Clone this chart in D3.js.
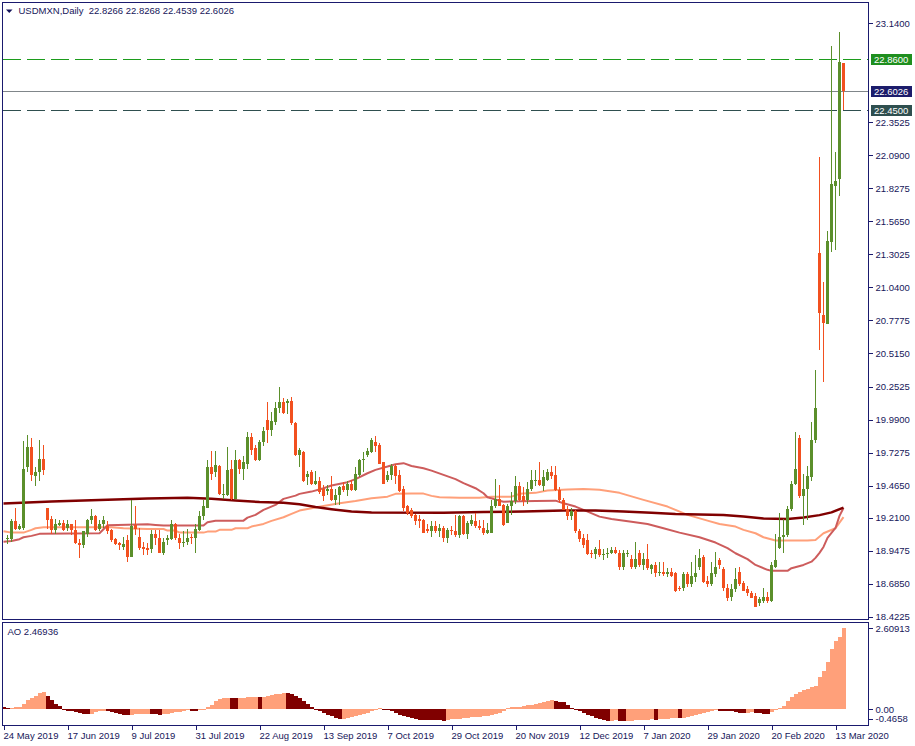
<!DOCTYPE html>
<html><head><meta charset="utf-8">
<script src="https://cdn.jsdelivr.net/npm/d3@7"></script>
<style>
html,body{margin:0;padding:0;background:#fff;}
svg{display:block;}
text{font-family:"Liberation Sans",Arial,sans-serif;font-size:9.5px;}
</style></head><body>
<svg id="chart" width="915" height="746"></svg>
<script>
// ---------- DATA ----------
const symbolTitle = "USDMXN,Daily";
const titleOHLC = "22.8266 22.8268 22.4539 22.6026";
const aoTitle = "AO 2.46936";
const firstBar = 1;   // index of the first candle (bar 0 = 24 May 2019)
const opens = [
19.04,19.04,19.18,19.12,19.13,19.61,19.77,19.54,19.57,19.68,
19.29,19.20,19.11,19.15,19.17,19.13,19.16,19.11,19.01,18.99,
19.08,19.19,19.22,19.12,19.16,19.14,19.11,19.04,19.01,18.98,
19.03,18.90,19.15,19.06,18.98,18.97,18.96,19.08,19.05,18.93,
19.03,19.04,19.16,19.05,19.01,19.02,19.06,19.05,19.11,19.22,
19.29,19.61,19.57,19.62,19.39,19.39,19.60,19.36,19.67,19.60,
19.64,19.85,19.76,19.67,19.81,19.99,19.91,19.97,20.08,20.13,
20.12,20.14,19.96,19.71,19.73,19.53,19.57,19.48,19.50,19.44,
19.42,19.44,19.35,19.39,19.46,19.43,19.48,19.43,19.55,19.67,
19.71,19.73,19.81,19.79,19.65,19.51,19.55,19.62,19.55,19.44,
19.30,19.27,19.23,19.20,19.19,19.12,19.10,19.14,19.10,19.13,
19.05,19.11,19.10,19.07,19.22,19.08,19.16,19.18,19.14,19.13,
19.09,19.09,19.30,19.36,19.31,19.17,19.30,19.34,19.46,19.38,
19.35,19.44,19.50,19.51,19.46,19.51,19.57,19.55,19.43,19.35,
19.28,19.22,19.26,19.10,19.05,19.03,18.93,18.92,18.96,18.91,
18.92,18.93,18.95,18.93,18.82,18.92,18.88,18.82,18.93,18.83,
18.88,18.80,18.83,18.77,18.78,18.76,18.78,18.77,18.65,18.65,
18.76,18.68,18.74,18.82,18.90,18.71,18.68,18.76,18.87,18.80,
18.65,18.58,18.64,18.78,18.69,18.64,18.61,18.59,18.53,18.55,
18.58,18.55,18.82,18.97,19.06,19.07,19.28,19.48,19.84,19.38,
19.44,19.53,19.83,21.31,20.82,20.75,21.40,21.85,21.90,22.8266];
const highs = [
19.07,19.20,19.29,19.16,19.82,19.87,19.84,19.61,19.83,19.79,
19.29,19.22,19.20,19.19,19.19,19.19,19.16,19.19,19.04,19.10,
19.20,19.28,19.23,19.19,19.22,19.18,19.12,19.05,19.02,19.06,
19.07,19.35,19.30,19.13,19.02,19.01,19.11,19.11,19.11,19.05,
19.07,19.19,19.17,19.08,19.10,19.12,19.08,19.16,19.26,19.35,
19.67,19.74,19.74,19.63,19.48,19.77,19.67,19.75,19.68,19.70,
19.89,19.88,19.79,19.83,19.93,20.13,20.05,20.13,20.25,20.16,
20.15,20.17,19.97,19.76,19.74,19.58,19.59,19.58,19.53,19.47,
19.47,19.54,19.44,19.46,19.49,19.50,19.51,19.61,19.68,19.73,
19.76,19.84,19.86,19.80,19.65,19.58,19.64,19.64,19.59,19.46,
19.31,19.29,19.24,19.23,19.20,19.16,19.18,19.18,19.16,19.14,
19.13,19.14,19.23,19.23,19.23,19.18,19.23,19.25,19.19,19.19,
19.17,19.35,19.52,19.47,19.32,19.32,19.41,19.54,19.49,19.45,
19.49,19.59,19.59,19.65,19.59,19.60,19.62,19.62,19.45,19.37,
19.30,19.29,19.27,19.12,19.08,19.08,18.95,18.98,19.03,18.96,
18.97,18.98,18.98,18.95,18.95,18.95,18.91,19.02,18.95,18.93,
19.00,18.84,18.86,18.86,18.86,18.81,18.81,18.78,18.67,18.78,
18.78,18.86,18.91,18.96,18.91,18.75,18.86,18.94,18.89,18.82,
18.68,18.68,18.81,18.82,18.71,18.67,18.63,18.61,18.58,18.65,
18.62,18.86,19.08,19.25,19.20,19.30,19.50,19.89,19.87,19.56,
19.62,19.97,20.38,22.08,21.08,21.49,22.96,22.12,23.07,22.8268];
const lows = [
19.00,19.02,19.11,19.11,19.11,19.57,19.50,19.46,19.50,19.55,
19.12,19.08,19.08,19.14,19.10,19.10,19.07,19.00,18.89,18.97,
19.06,19.16,19.10,19.10,19.13,19.08,19.02,18.99,18.95,18.95,
18.86,18.90,19.07,18.95,18.91,18.91,18.93,18.99,18.93,18.91,
18.99,19.03,19.03,18.96,18.98,18.99,19.00,18.93,19.10,19.19,
19.29,19.51,19.53,19.39,19.36,19.38,19.35,19.36,19.56,19.51,
19.60,19.71,19.66,19.66,19.78,19.80,19.86,19.95,20.04,20.03,
20.03,19.95,19.70,19.61,19.49,19.47,19.47,19.47,19.40,19.34,
19.39,19.34,19.31,19.31,19.41,19.38,19.42,19.42,19.53,19.57,
19.69,19.72,19.73,19.64,19.48,19.49,19.51,19.48,19.41,19.26,
19.23,19.21,19.15,19.13,19.09,19.09,19.06,19.09,19.06,19.02,
19.01,19.07,19.06,19.05,19.07,19.04,19.14,19.13,19.11,19.07,
19.08,19.09,19.29,19.30,19.14,19.17,19.23,19.32,19.34,19.30,
19.32,19.42,19.46,19.46,19.42,19.50,19.52,19.42,19.33,19.27,
19.19,19.19,19.09,19.02,18.97,18.91,18.89,18.88,18.90,18.87,
18.89,18.92,18.92,18.79,18.79,18.90,18.80,18.80,18.82,18.79,
18.79,18.76,18.74,18.75,18.75,18.74,18.74,18.62,18.63,18.63,
18.66,18.66,18.70,18.79,18.69,18.66,18.67,18.74,18.80,18.63,
18.55,18.55,18.62,18.67,18.63,18.59,18.57,18.50,18.51,18.53,
18.53,18.54,18.81,18.96,18.93,19.06,19.26,19.47,19.37,19.15,
19.19,19.50,19.80,20.54,20.29,20.75,21.32,21.34,21.77,22.4539];
const closes = [
19.05,19.18,19.12,19.14,19.60,19.77,19.55,19.57,19.68,19.59,
19.19,19.11,19.16,19.17,19.11,19.16,19.11,19.01,18.99,19.10,
19.19,19.22,19.11,19.16,19.19,19.10,19.03,19.00,18.99,19.00,
18.90,19.14,19.12,18.97,18.96,18.95,19.08,19.05,18.93,19.02,
19.05,19.16,19.05,19.01,19.02,19.05,19.05,19.12,19.22,19.30,
19.61,19.56,19.63,19.40,19.40,19.59,19.36,19.67,19.60,19.65,
19.85,19.75,19.67,19.81,19.90,19.91,19.98,20.08,20.13,20.04,
20.14,19.96,19.71,19.75,19.50,19.56,19.48,19.50,19.41,19.38,
19.44,19.35,19.39,19.45,19.43,19.48,19.43,19.56,19.67,19.68,
19.74,19.83,19.78,19.64,19.48,19.55,19.62,19.54,19.42,19.29,
19.25,19.22,19.18,19.18,19.09,19.10,19.14,19.10,19.13,19.05,
19.11,19.10,19.07,19.22,19.08,19.17,19.19,19.14,19.13,19.09,
19.11,19.30,19.36,19.30,19.15,19.30,19.34,19.46,19.35,19.34,
19.44,19.51,19.51,19.47,19.53,19.57,19.54,19.43,19.35,19.27,
19.22,19.26,19.10,19.04,18.99,18.92,18.92,18.96,18.91,18.92,
18.93,18.95,18.93,18.82,18.93,18.93,18.82,18.88,18.83,18.88,
18.81,18.83,18.77,18.78,18.76,18.78,18.75,18.63,18.64,18.76,
18.68,18.75,18.77,18.89,18.70,18.68,18.77,18.82,18.83,18.65,
18.57,18.64,18.72,18.68,18.63,18.61,18.57,18.50,18.56,18.58,
18.55,18.83,18.87,19.06,19.07,19.28,19.48,19.60,19.38,19.44,
19.54,19.83,20.08,20.84,20.76,21.41,21.86,21.89,22.83,22.6026];

// moving averages: [bar index, value]
const maMaroon = [[0,19.322],[12,19.338],[24,19.350],[36,19.362],[46,19.368],[52,19.360],[58,19.346],[64,19.334],[70,19.328],[74,19.316],[78,19.295],[82,19.277],[87,19.258],[92,19.250],[110,19.249],[120,19.254],[130,19.259],[140,19.266],[148,19.266],[155,19.259],[162,19.248],[168,19.238],[180,19.231],[185,19.219],[190,19.204],[196,19.200],[200,19.212],[204,19.230],[207,19.252],[210,19.290]];
const maIndianRed = [[0,19.019],[2,19.025],[4,19.039],[5,19.054],[7,19.065],[9,19.081],[24,19.086],[26,19.150],[36,19.158],[38,19.152],[40,19.147],[50,19.147],[51,19.174],[53,19.186],[60,19.186],[61,19.210],[63,19.232],[65,19.272],[68,19.311],[70,19.359],[73,19.385],[74,19.399],[77,19.417],[80,19.444],[82,19.465],[86,19.492],[88,19.516],[91,19.563],[93,19.590],[96,19.616],[98,19.635],[100,19.643],[102,19.621],[105,19.603],[107,19.584],[110,19.550],[113,19.516],[115,19.484],[118,19.444],[120,19.404],[121,19.372],[124,19.345],[125,19.337],[133,19.343],[138,19.345],[140,19.325],[143,19.298],[145,19.272],[149,19.218],[152,19.200],[157,19.178],[161,19.160],[165,19.126],[169,19.091],[174,19.054],[178,19.012],[181,18.967],[183,18.927],[186,18.880],[188,18.834],[191,18.795],[192,18.787],[196,18.787],[197,18.808],[200,18.834],[202,18.860],[203,18.890],[204,18.930],[205,18.977],[206,19.049],[208,19.128],[209,19.224],[210,19.287]];
const maSalmon = [[0,19.102],[2,19.091],[5,19.091],[7,19.113],[8,19.126],[10,19.134],[27,19.134],[30,19.126],[36,19.120],[40,19.120],[41,19.107],[43,19.107],[44,19.091],[50,19.091],[51,19.099],[53,19.099],[54,19.113],[57,19.113],[58,19.126],[61,19.126],[62,19.139],[65,19.160],[67,19.184],[70,19.213],[72,19.240],[74,19.266],[77,19.285],[80,19.303],[84,19.325],[88,19.343],[92,19.365],[96,19.377],[98,19.399],[102,19.401],[105,19.401],[107,19.383],[109,19.372],[114,19.369],[119,19.369],[122,19.377],[127,19.377],[129,19.399],[133,19.407],[136,19.425],[141,19.434],[145,19.438],[149,19.431],[154,19.407],[160,19.351],[166,19.298],[171,19.232],[176,19.186],[179,19.160],[183,19.139],[185,19.113],[188,19.086],[190,19.054],[193,19.028],[201,19.028],[203,19.033],[205,19.086],[208,19.126],[210,19.214]];

// Awesome Oscillator, bars 0..210
const aoValues = [
0.05,0.04,0.045,0.06,0.065,0.15,0.29,0.37,0.42,0.53,
0.535,0.42,0.29,0.16,0.09,-0.02,-0.05,-0.08,-0.11,-0.14,
-0.15,-0.155,-0.15,-0.11,-0.08,-0.06,-0.07,-0.09,-0.13,-0.16,
-0.18,-0.21,-0.20,-0.17,-0.16,-0.155,-0.15,-0.17,-0.175,-0.18,
-0.17,-0.15,-0.13,-0.11,-0.09,-0.06,-0.04,-0.05,-0.06,-0.02,
0.01,0.07,0.14,0.25,0.31,0.35,0.37,0.36,0.35,0.36,
0.37,0.38,0.39,0.40,0.39,0.40,0.42,0.44,0.47,0.50,
0.52,0.51,0.47,0.42,0.35,0.27,0.17,0.08,-0.02,-0.08,
-0.14,-0.19,-0.24,-0.28,-0.32,-0.31,-0.30,-0.27,-0.24,-0.20,
-0.16,-0.12,-0.07,-0.02,0.03,0.01,-0.03,-0.08,-0.13,-0.18,
-0.22,-0.26,-0.30,-0.33,-0.34,-0.35,-0.355,-0.36,-0.365,-0.37,
-0.375,-0.34,-0.33,-0.32,-0.31,-0.30,-0.29,-0.27,-0.26,-0.25,
-0.24,-0.22,-0.20,-0.17,-0.12,-0.07,0.03,0.05,0.06,0.08,
0.10,0.12,0.14,0.17,0.20,0.23,0.26,0.28,0.26,0.24,
0.21,0.13,0.04,-0.03,-0.07,-0.12,-0.18,-0.23,-0.28,-0.32,
-0.36,-0.38,-0.375,-0.37,-0.39,-0.40,-0.39,-0.385,-0.37,-0.36,
-0.35,-0.34,-0.33,-0.34,-0.33,-0.32,-0.31,-0.30,-0.295,-0.30,
-0.29,-0.27,-0.22,-0.19,-0.16,-0.13,-0.10,-0.08,-0.04,-0.05,
-0.06,-0.07,-0.08,-0.10,-0.12,-0.14,-0.12,-0.11,-0.12,-0.14,
-0.16,-0.17,-0.10,-0.03,0.02,0.11,0.26,0.38,0.47,0.56,
0.61,0.65,0.70,0.74,1.05,1.23,1.53,1.94,2.20,2.34,
2.60913];

const priceTicks = [23.14,22.3525,22.09,21.8275,21.565,21.3025,21.04,20.7775,20.515,20.2525,19.99,19.7275,19.465,19.21,18.9475,18.685,18.4225];
const levelValues = [22.86, 22.6026, 22.45];
const aoTicks = [2.60913, 0, -0.4658];
const aoTickLabels = ["2.60913", "0.00", "-0.4658"];
const dateLabels = ["24 May 2019","17 Jun 2019","9 Jul 2019","31 Jul 2019","22 Aug 2019","13 Sep 2019","7 Oct 2019","29 Oct 2019","20 Nov 2019","12 Dec 2019","7 Jan 2020","29 Jan 2020","20 Feb 2020","13 Mar 2020"];
const dateLabelBars = [0,16,32,48,64,80,96,112,128,144,160,176,192,208];

// ---------- LAYOUT / STYLE ----------
const frameColor = "#1a1a6e", textColor = "#16165a";
const upColor = "#5b8f2b", downColor = "#f2501f";
const L = 2.5, R = 868.5, mainTop = 2.5, mainBot = 619.5, aoTop = 622.5, aoBot = 725.5;
const levelStyles = [
  {stroke:"#1c9c1c", dash:"18,6", box:"#1f8f1f"},
  {stroke:"#80868a", dash:null, box:"#1c1c6b"},
  {stroke:"#2f4f4f", dash:"18,6", box:"#2f4f4f"}
];

const svg = d3.select("#chart");
svg.append("rect").attr("width",915).attr("height",746).attr("fill","#fff");

const nBars = firstBar + opens.length - 1;
const x = d3.scaleLinear().domain([0, nBars]).range([3.5, 843.5]);
const y = d3.scaleLinear().domain([18.4225, 23.14]).range([616.7, 23.3]);
const yAO = d3.scaleLinear().domain([-0.4658, 2.60913]).range([723.4, 628.3]);

const defs = svg.append("defs");
defs.append("clipPath").attr("id","clipMain").append("rect")
  .attr("x",L+0.5).attr("y",mainTop+0.5).attr("width",R-L-1).attr("height",mainBot-mainTop-1);
defs.append("clipPath").attr("id","clipAO").append("rect")
  .attr("x",L+0.5).attr("y",aoTop+0.5).attr("width",R-L-1).attr("height",aoBot-aoTop-1);

// ---------- level lines ----------
const gLevels = svg.append("g").attr("clip-path","url(#clipMain)");
levelValues.forEach((v,i) => {
  const yy = Math.round(y(v)) + 0.5;
  const ln = gLevels.append("line").attr("x1",L+0.5).attr("x2",R).attr("y1",yy).attr("y2",yy)
    .attr("stroke",levelStyles[i].stroke).attr("stroke-width",1);
  if (levelStyles[i].dash) ln.attr("stroke-dasharray",levelStyles[i].dash);
});

// ---------- moving averages ----------
const gMA = svg.append("g").attr("clip-path","url(#clipMain)");
const lineGen = d3.line().x(d => x(d[0])).y(d => y(d[1]));
[[maSalmon,"#ffa07a",2],[maIndianRed,"#cd5c5c",2],[maMaroon,"#800000",2.5]].forEach(([pts,col,w]) => {
  gMA.append("path").attr("d",lineGen(pts)).attr("fill","none").attr("stroke",col)
    .attr("stroke-width",w).attr("stroke-linejoin","round");
});

// ---------- candles ----------
const candles = opens.map((o,k) => ({i:k+firstBar, o, h:highs[k], l:lows[k], c:closes[k]}));
const gC = svg.append("g").attr("clip-path","url(#clipMain)").attr("shape-rendering","crispEdges");
candles.forEach(d => {
  const col = d.c >= d.o ? upColor : downColor;
  const cx = x(d.i);
  const yh = Math.round(y(d.h)), yl = Math.round(y(d.l));
  gC.append("rect").attr("x",cx-0.5).attr("y",yh).attr("width",1).attr("height",Math.max(1,yl-yh)).attr("fill",col);
  const yt = Math.round(y(Math.max(d.o,d.c))), yb = Math.round(y(Math.min(d.o,d.c)));
  gC.append("rect").attr("x",cx-1.5).attr("y",yt).attr("width",3).attr("height",Math.max(1,yb-yt)).attr("fill",col);
});

// ---------- AO histogram ----------
const gAO = svg.append("g").attr("clip-path","url(#clipAO)").attr("shape-rendering","crispEdges");
const y0 = Math.round(yAO(0));
aoValues.forEach((v,i) => {
  const col = (i > 0 && v > aoValues[i-1]) ? "#ffa07a" : "#800000";
  const yy = Math.round(yAO(v));
  const cx = x(i);
  gAO.append("rect").attr("x",cx-2).attr("width",4)
    .attr("y",Math.min(yy,y0)).attr("height",Math.max(1,Math.abs(yy-y0))).attr("fill",col);
});

// ---------- frames ----------
const gF = svg.append("g").attr("fill","none").attr("stroke",frameColor).attr("stroke-width",1).attr("shape-rendering","crispEdges");
gF.append("rect").attr("x",L).attr("y",mainTop).attr("width",R-L).attr("height",mainBot-mainTop);
gF.append("rect").attr("x",L).attr("y",aoTop).attr("width",R-L).attr("height",aoBot-aoTop);

// ---------- price axis ----------
const axP = svg.append("g").attr("transform",`translate(${R},0)`)
  .call(d3.axisRight(y).tickValues(priceTicks).tickFormat(d => d.toFixed(4)).tickSize(4).tickPadding(3));
axP.select(".domain").remove();
axP.selectAll("line").attr("stroke",frameColor).attr("shape-rendering","crispEdges");
axP.selectAll("text").attr("fill",textColor).style("font-family",'"Liberation Sans",Arial,sans-serif').style("font-size","9.5px");

// level labels
levelValues.forEach((v,i) => {
  const yy = Math.round(y(v));
  svg.append("rect").attr("x",871).attr("y",yy-5).attr("width",41).attr("height",11)
    .attr("fill",levelStyles[i].box).attr("shape-rendering","crispEdges");
  svg.append("text").attr("x",874).attr("y",yy+0.5).attr("dy","0.35em").attr("fill","#fff").text(v.toFixed(4));
});

// ---------- AO axis ----------
aoTicks.forEach((v,i) => {
  const ty = Math.min(Math.round(yAO(v)), aoBot - 7);
  svg.append("line").attr("x1",R).attr("x2",R+4).attr("y1",ty+0.5).attr("y2",ty+0.5)
    .attr("stroke",frameColor).attr("shape-rendering","crispEdges");
  svg.append("text").attr("x",R+7).attr("y",ty+0.5).attr("dy","0.35em").attr("fill",textColor).text(aoTickLabels[i]);
});

// ---------- date axis ----------
const axD = svg.append("g").attr("transform",`translate(0,${aoBot})`)
  .call(d3.axisBottom(x).tickValues(dateLabelBars).tickFormat((d,i) => dateLabels[i]).tickSize(4).tickPadding(3));
axD.select(".domain").remove();
axD.selectAll("line").attr("stroke",frameColor).attr("shape-rendering","crispEdges");
axD.selectAll("text").attr("fill",textColor).attr("text-anchor","start").attr("x",-0.5)
  .style("font-family",'"Liberation Sans",Arial,sans-serif').style("font-size","9.5px");

// ---------- titles ----------
svg.append("path").attr("d","M6,9.5 L12.5,9.5 L9.25,13 Z").attr("fill","#14145a");
svg.append("text").attr("x",18.5).attr("y",14).attr("fill",textColor).attr("xml:space","preserve")
  .text(symbolTitle + "  " + titleOHLC);
svg.append("text").attr("x",7.5).attr("y",635).attr("fill",textColor).text(aoTitle);
</script>
</body></html>
